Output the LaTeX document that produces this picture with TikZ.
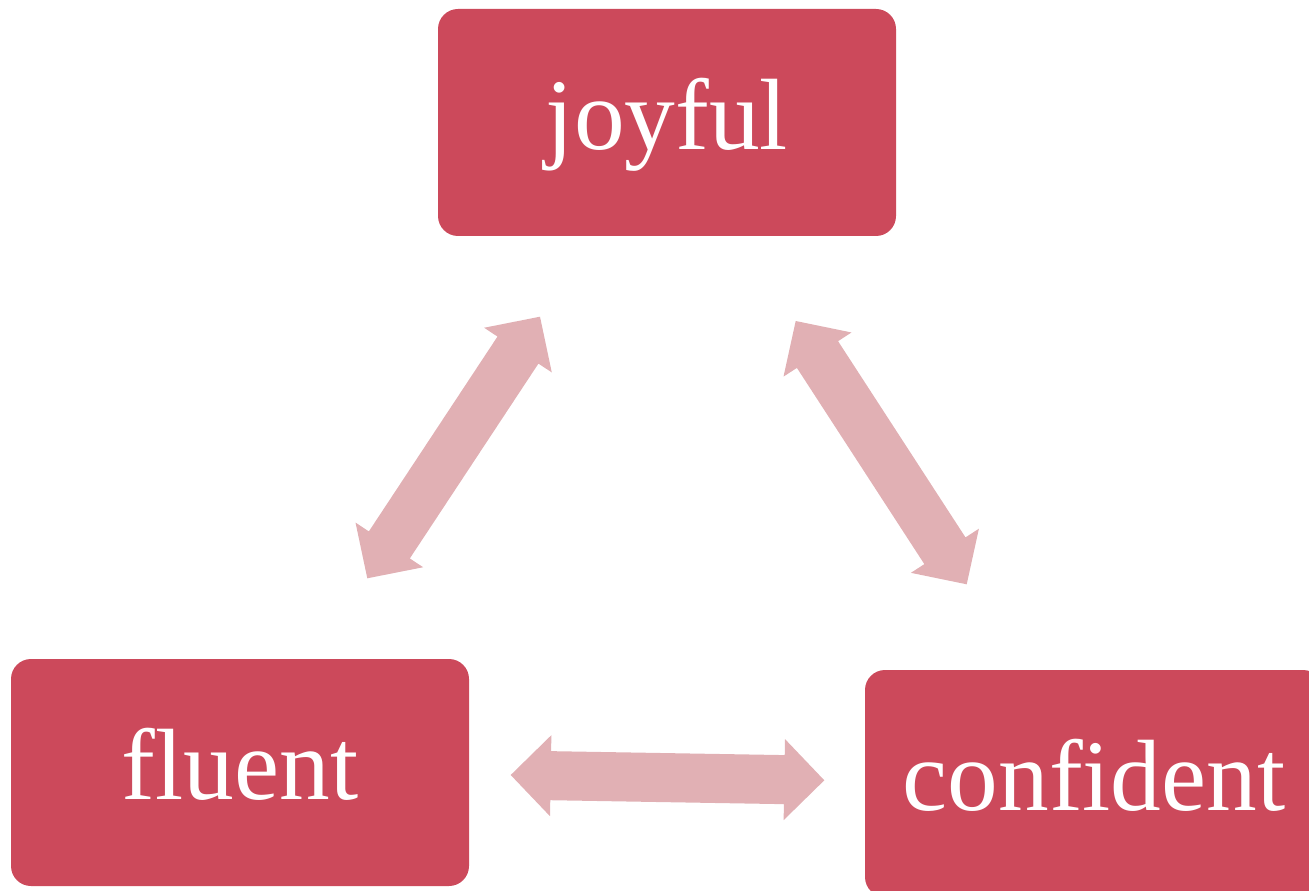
\documentclass[tikz,border=0pt]{standalone}
\usepackage{fontspec}
\setmainfont{Liberation Serif}
\usepackage{tikz}
\usetikzlibrary{calc}

\definecolor{boxred}{RGB}{204,73,91}
\definecolor{arrowpink}{RGB}{225,176,180}

\tikzset{
  wordbox/.style={rectangle, rounded corners=15pt, fill=boxred, text=white, inner sep=0pt,
    minimum width=343.5pt, minimum height=170.25pt,
    font=\fontsize{76}{92}\selectfont, text height=60pt, text depth=19pt},
  blockarrow/.style={fill=arrowpink}
}

% double block arrow from tip #1 to tip #2
\newcommand{\dblarrow}[2]{%
  \fill[blockarrow] (#1)
    -- ($(#1)!30pt!(#2)!30.4pt!90:(#2)$)
    -- ($(#1)!30pt!(#2)!18.4pt!90:(#2)$)
    -- ($(#2)!30pt!(#1)!18.4pt!-90:(#1)$)
    -- ($(#2)!30pt!(#1)!30.4pt!-90:(#1)$)
    -- (#2)
    -- ($(#2)!30pt!(#1)!30.4pt!90:(#1)$)
    -- ($(#2)!30pt!(#1)!18.4pt!90:(#1)$)
    -- ($(#1)!30pt!(#2)!18.4pt!-90:(#2)$)
    -- ($(#1)!30pt!(#2)!30.4pt!-90:(#2)$)
    -- cycle;}

\begin{document}
\begin{tikzpicture}[x=0.75pt,y=0.75pt,yscale=-1,xscale=1]
\useasboundingbox (0,0) rectangle (1309,891);
\clip (0,0) rectangle (1309,891);

%Shape: Rounded Rect [joyful]
\node[wordbox] (joyful) at (667,122.5) {joyful};
%Shape: Rounded Rect [fluent]
\node[wordbox] (fluent) at (240,772.5) {fluent};
%Shape: Rounded Rect [confident]
\node[wordbox] (confident) at (1094,783.5) {confident};

% arrow tips
\coordinate (joyfl) at (540,316.7);
\coordinate (flujoy) at (367.3,578.3);
\coordinate (joycon) at (795.7,321);
\coordinate (conjoy) at (966.7,584.3);
\coordinate (flucon) at (510.7,775);
\coordinate (conflu) at (824.3,780.3);

%Shape: Double Arrow
\dblarrow{flujoy}{joyfl}
%Shape: Double Arrow
\dblarrow{joycon}{conjoy}
%Shape: Double Arrow
\dblarrow{flucon}{conflu}

\end{tikzpicture}
\end{document}
